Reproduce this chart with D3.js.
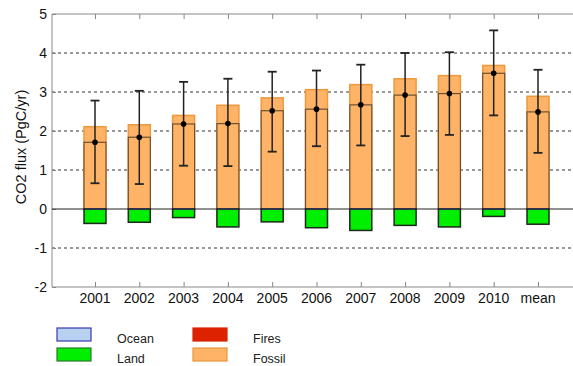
<!DOCTYPE html>
<html><head><meta charset="utf-8">
<script src="https://cdn.jsdelivr.net/npm/d3@7"></script>
<style>body{margin:0;background:#fff;}svg{display:block;font-family:"Liberation Sans",Arial,sans-serif;}</style>
</head><body>
<svg id="c" width="573" height="366"></svg>
<script>
const categories = ["2001","2002","2003","2004","2005","2006","2007","2008","2009","2010","mean"];
const fossil = [2.11,2.16,2.40,2.66,2.85,3.06,3.19,3.34,3.42,3.68,2.89];
const land   = [-0.37,-0.34,-0.22,-0.46,-0.33,-0.48,-0.55,-0.42,-0.46,-0.19,-0.39];
const net    = [1.71,1.84,2.18,2.19,2.52,2.56,2.67,2.92,2.96,3.48,2.49];
const errHi  = [2.78,3.03,3.26,3.34,3.52,3.55,3.70,4.00,4.02,4.58,3.57];
const errLo  = [0.66,0.64,1.11,1.10,1.47,1.61,1.63,1.87,1.90,2.40,1.44];
const yTicks = [-2,-1,0,1,2,3,4,5];
const legendItems = [
  {name:"Ocean", fill:"#b9d1f1", stroke:"#3a3ab0"},
  {name:"Land", fill:"#00ee00", stroke:"#2a7a2a"},
  {name:"Fires", fill:"#dd2200", stroke:"#dd2200"},
  {name:"Fossil", fill:"#ffb366", stroke:"#e8963a"}
];

const svg = d3.select("#c");
const L = 52, T = 14, B = 287, R = 583;
const x = d3.scalePoint().domain(categories).range([95, 538]);
const y = d3.scaleLinear().domain([-2,5]).range([B, T]);
const bw = 22;

// gridlines
svg.append("g").selectAll("line").data(yTicks.filter(d=>d!==0 && d!==-2 && d!==5)).join("line")
  .attr("x1", L).attr("x2", R).attr("y1", d=>y(d)).attr("y2", d=>y(d))
  .attr("stroke", "#333").attr("stroke-width", 1).attr("stroke-dasharray", "3,3");

// axes frame
svg.append("line").attr("x1",L).attr("x2",R).attr("y1",T).attr("y2",T).attr("stroke","#888");
svg.append("line").attr("x1",L).attr("x2",R).attr("y1",B).attr("y2",B).attr("stroke","#888");
svg.append("line").attr("x1",L).attr("x2",L).attr("y1",T).attr("y2",B).attr("stroke","#888");

// y axis ticks & labels
const ya = svg.append("g").attr("transform", `translate(${L},0)`)
  .call(d3.axisRight(y).tickValues(yTicks).tickSize(4).tickFormat(""));
ya.select(".domain").remove();
ya.selectAll("line").attr("stroke","#888");
svg.append("g").selectAll("text").data(yTicks).join("text")
  .attr("x", L-5).attr("y", d=>y(d)).attr("dy","0.36em").attr("text-anchor","end")
  .attr("font-size", 14).attr("fill","#111").text(d=>d);

// top and bottom ticks
const xt = svg.append("g").attr("transform", `translate(0,${T})`)
  .call(d3.axisBottom(x).tickSize(5).tickFormat(""));
xt.select(".domain").remove(); xt.selectAll("line").attr("stroke","#888");
const xb = svg.append("g").attr("transform", `translate(0,${B})`)
  .call(d3.axisTop(x).tickSize(5).tickFormat(""));
xb.select(".domain").remove(); xb.selectAll("line").attr("stroke","#888");
svg.append("g").selectAll("text").data(categories).join("text")
  .attr("x", d=>x(d)).attr("y", 303).attr("text-anchor","middle")
  .attr("font-size", 14).attr("fill","#111").text(d=>d);

// y label
svg.append("text").attr("transform","translate(26,147) rotate(-90)")
  .attr("text-anchor","middle").attr("font-size",14.5).attr("fill","#111").text("CO2 flux (PgC/yr)");

const data = categories.map((c,i)=>({c, f:fossil[i], l:land[i], n:net[i], hi:errHi[i], lo:errLo[i]}));
const g = svg.append("g");
g.selectAll(".fos").data(data).join("rect")
  .attr("x", d=>x(d.c)-bw/2).attr("width", bw)
  .attr("y", d=>y(d.f)).attr("height", d=>y(0)-y(d.f))
  .attr("fill","#ffb366").attr("stroke","#eb9a3e").attr("stroke-width",1.5);
g.selectAll(".net").data(data).join("rect")
  .attr("x", d=>x(d.c)-bw/2).attr("width", bw)
  .attr("y", d=>y(d.n)).attr("height", d=>y(0)-y(d.n))
  .attr("fill","#ffb366").attr("stroke","#6e5030").attr("stroke-width",1.2);
g.selectAll(".land").data(data).join("rect")
  .attr("x", d=>x(d.c)-bw/2).attr("width", bw)
  .attr("y", y(0)).attr("height", d=>y(d.l)-y(0))
  .attr("fill","#00ee00").attr("stroke","#1a2a1a").attr("stroke-width",1.5);
svg.append("line").attr("x1",L).attr("x2",R).attr("y1",y(0)).attr("y2",y(0)).attr("stroke","#222").attr("stroke-width",1);
g.selectAll(".oc").data(data).join("line")
  .attr("x1", d=>x(d.c)-bw/2+1).attr("x2", d=>x(d.c)+bw/2-1)
  .attr("y1", y(0)).attr("y2", y(0)).attr("stroke","#5040c0").attr("stroke-width",1);
const eb = g.selectAll(".eb").data(data).join("g");
eb.append("line").attr("x1",d=>x(d.c)).attr("x2",d=>x(d.c)).attr("y1",d=>y(d.hi)).attr("y2",d=>y(d.lo)).attr("stroke","#222").attr("stroke-width",1.5);
eb.append("line").attr("x1",d=>x(d.c)-4.5).attr("x2",d=>x(d.c)+4.5).attr("y1",d=>y(d.hi)).attr("y2",d=>y(d.hi)).attr("stroke","#222").attr("stroke-width",1.8);
eb.append("line").attr("x1",d=>x(d.c)-4.5).attr("x2",d=>x(d.c)+4.5).attr("y1",d=>y(d.lo)).attr("y2",d=>y(d.lo)).attr("stroke","#222").attr("stroke-width",1.8);
eb.append("circle").attr("cx",d=>x(d.c)).attr("cy",d=>y(d.n)).attr("r",2.8).attr("fill","#000");

// legend
const lg = svg.append("g");
const pos = [{x:57,y:328},{x:57,y:348},{x:193,y:328},{x:193,y:348}];
legendItems.forEach((it,i)=>{
  lg.append("rect").attr("x",pos[i].x).attr("y",pos[i].y).attr("width",34).attr("height",13)
    .attr("fill",it.fill).attr("stroke",it.stroke).attr("stroke-width",1.2);
  lg.append("text").attr("x",pos[i].x+60).attr("y",pos[i].y+15).attr("font-size",12.5)
    .attr("fill","#222").text(it.name);
});
</script>
</body></html>
